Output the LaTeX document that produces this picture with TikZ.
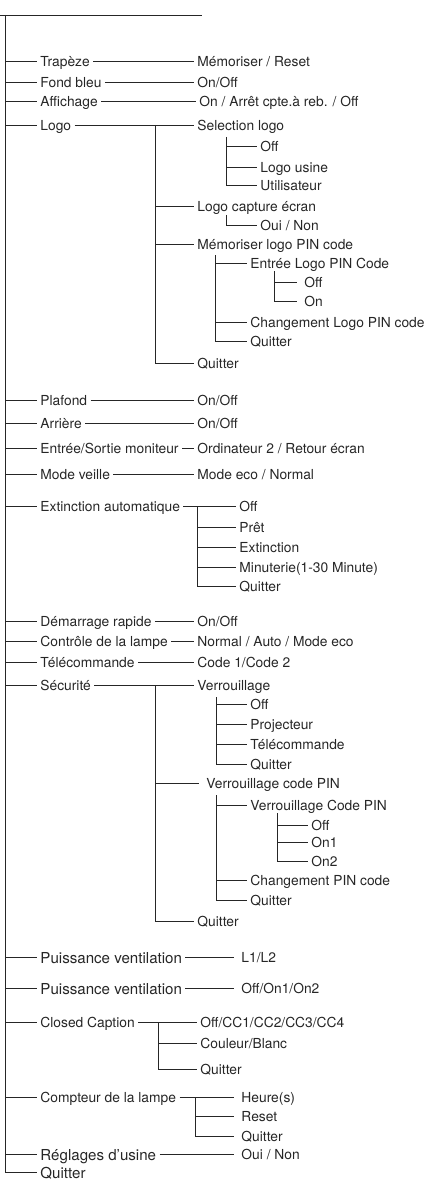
\documentclass[tikz,border=0pt]{standalone}
\usepackage{fontspec}
\setmainfont{TeX Gyre Heros}
\begin{document}
\begin{tikzpicture}
  [x=1pt,y=-1pt,line width=.9pt,color=black!85,
   every node/.style={anchor=west,inner sep=3pt,text height=11pt,text depth=0pt,
     font=\fontsize{13.8}{16}\selectfont},
   big/.style={font=\fontsize{15.1}{18}\selectfont,text height=12pt},
   gapped/.style={inner xsep=7pt}]
  \useasboundingbox (0,0) rectangle (426,1182);
  \coordinate (top) at (0,15);
  \coordinate (topend) at (202,15);
  \coordinate (trunk) at (5,15);

  % main menu
  \node (m1) at (37,61) {Trapèze};
  \node (m2) at (37,82) {Fond bleu};
  \node (m3) at (37,101) {Affichage};
  \node (m4) at (37,125) {Logo};
  \node (m5) at (37,400) {Plafond};
  \node (m6) at (37,423) {Arrière};
  \node (m7) at (37,448) {Entrée/Sortie moniteur};
  \node (m8) at (37,474) {Mode veille};
  \node (m9) at (37,506) {Extinction automatique};
  \node (m10) at (37,621) {Démarrage rapide};
  \node (m11) at (37,641) {Contrôle de la lampe};
  \node (m12) at (37,662) {Télécommande};
  \node (m13) at (37,685) {Sécurité};
  \node[big] (m14) at (37,957) {Puissance ventilation};
  \node[big] (m15) at (37,988) {Puissance ventilation};
  \node (m16) at (37,1022) {Closed Caption};
  \node (m17) at (37,1097) {Compteur de la lampe};
  \node[big] (m18) at (37,1154) {Réglages d’usine};
  \node[big] (m19) at (37,1172) {Quitter};

  % settings
  \node (v1) at (194,61) {Mémoriser / Reset};
  \node (v2) at (194,82) {On/Off};
  \node (v3) at (196,101) {On / Arrêt cpte.à reb. / Off};
  \node (v5) at (194,400) {On/Off};
  \node (v6) at (194,423) {On/Off};
  \node (v7) at (194,448) {Ordinateur 2 / Retour écran};
  \node (v8) at (194,474) {Mode eco / Normal};
  \node (v10) at (194,621) {On/Off};
  \node (v11) at (194,641) {Normal / Auto / Mode eco};
  \node (v12) at (194,662) {Code 1/Code 2};
  \node[gapped] (v14) at (234,957) {L1/L2};
  \node[gapped] (v15) at (234,988) {Off/On1/On2};
  \node[gapped] (v18) at (234,1154) {Oui / Non};

  % logo
  \coordinate (vlg) at (155,125);
  \node (lg1) at (194,125) {Selection logo};
  \node (lg2) at (194,206) {Logo capture écran};
  \node (lg3) at (194,244) {Mémoriser logo PIN code};
  \node (lg4) at (194,363) {Quitter};
  \coordinate (vsel) at (226,137);
  \node (sel1) at (257,146) {Off};
  \node (sel2) at (257,167) {Logo usine};
  \node (sel3) at (257,185) {Utilisateur};
  \coordinate (vcap) at (226,215);
  \node (cap1) at (257,225) {Oui / Non};
  \coordinate (vpin) at (215,255);
  \node (pin1) at (247,263) {Entrée Logo PIN Code};
  \node (pin2) at (247,322) {Changement Logo PIN code};
  \node (pin3) at (247,341) {Quitter};
  \coordinate (vent) at (274,271);
  \node[gapped] (ent1) at (297,282) {Off};
  \node[gapped] (ent2) at (297,301) {On};

  % extinction
  \coordinate (vex) at (197,506);
  \node (ex1) at (236,506) {Off};
  \node (ex2) at (236,527) {Prêt};
  \node (ex3) at (236,547) {Extinction};
  \node (ex4) at (236,567) {Minuterie(1-30 Minute)};
  \node (ex5) at (236,586) {Quitter};

  % securite
  \coordinate (vsc) at (155,685);
  \node (sc1) at (194,685) {Verrouillage};
  \node[gapped] (sc2) at (199,783) {Verrouillage code PIN};
  \node (sc3) at (194,921) {Quitter};
  \coordinate (vver) at (216,697);
  \node (ver1) at (247,704) {Off};
  \node (ver2) at (247,724) {Projecteur};
  \node (ver3) at (247,744) {Télécommande};
  \node (ver4) at (247,764) {Quitter};
  \coordinate (vcp) at (216,795);
  \node (cp1) at (247,805) {Verrouillage Code PIN};
  \node (cp2) at (247,880) {Changement PIN code};
  \node (cp3) at (247,900) {Quitter};
  \coordinate (von) at (277,813);
  \node (on1) at (308,825) {Off};
  \node (on2) at (308,842) {On1};
  \node (on3) at (308,861) {On2};

  % closed caption, compteur
  \coordinate (vcc) at (158,1022);
  \node (cc1) at (197,1022) {Off/CC1/CC2/CC3/CC4};
  \node (cc2) at (197,1043) {Couleur/Blanc};
  \node (cc3) at (197,1069) {Quitter};
  \coordinate (vco) at (195,1097);
  \node[gapped] (co1) at (234,1097) {Heure(s)};
  \node[gapped] (co2) at (234,1116) {Reset};
  \node[gapped] (co3) at (234,1136) {Quitter};

  \draw (top) -- (topend);
  \draw (trunk) |- (m19.west);
  \foreach \i in {1,...,18}
    \draw (trunk |- m\i.west) -- (m\i.west);

  \foreach \from/\to in {m1/v1,m2/v2,m3/v3,m5/v5,m6/v6,m7/v7,m8/v8,m10/v10,m11/v11,m12/v12,
      m14/v14,m15/v15,m18/v18,m4/lg1,m9/ex1,m13/sc1,m16/cc1,m17/co1}
    \draw (\from.east) -- (\to.west);

  \foreach \v/\n in {vlg/lg2,vlg/lg3,vsel/sel1,vsel/sel2,vpin/pin1,vpin/pin2,vent/ent1,
      vex/ex2,vex/ex3,vex/ex4,vsc/sc2,vver/ver1,vver/ver2,vver/ver3,vcp/cp1,vcp/cp2,
      von/on1,von/on2,vcc/cc2,vco/co2}
    \draw (\v |- \n.west) -- (\n.west);
  \foreach \v/\n in {vlg/lg4,vsel/sel3,vcap/cap1,vpin/pin3,vent/ent2,vex/ex5,vsc/sc3,
      vver/ver4,vcp/cp3,von/on3,vcc/cc3,vco/co3}
    \draw (\v) |- (\n.west);

\end{tikzpicture}
\end{document}
